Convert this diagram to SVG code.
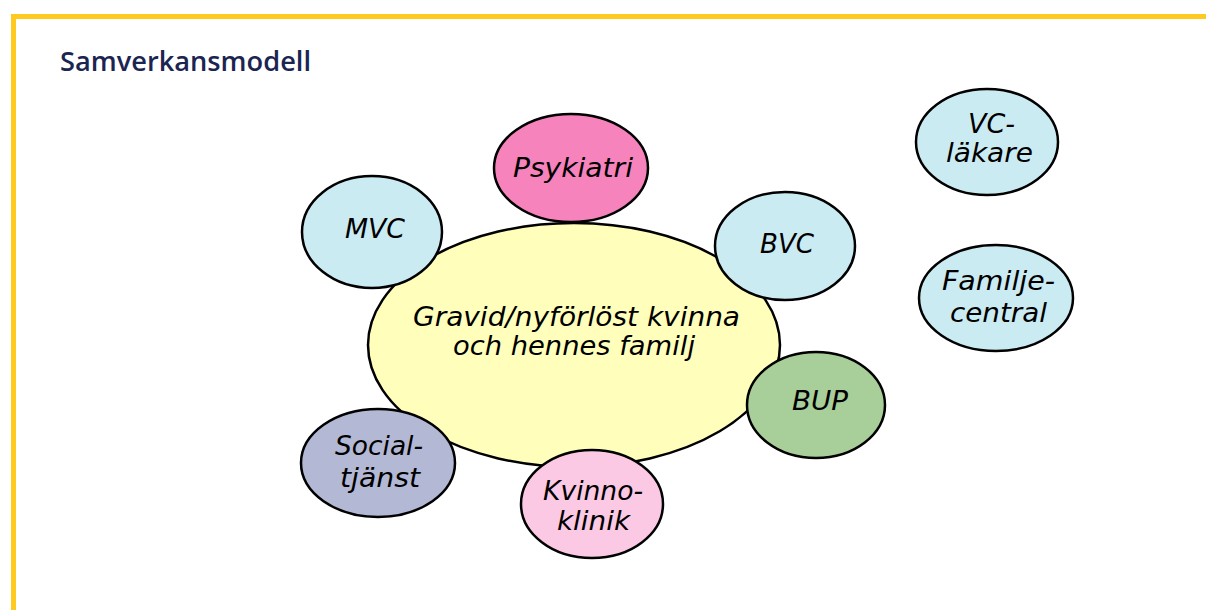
<svg xmlns="http://www.w3.org/2000/svg" width="1206" height="610" viewBox="0 0 1206 610">
<style>
.e{stroke:#000;stroke-width:2.5}
.t{font-family:"DejaVu Sans",Verdana,sans-serif;font-style:italic;font-size:26px;fill:#000;text-anchor:start}
.title{font-family:"Open Sans","DejaVu Sans",sans-serif;font-weight:600;font-size:27px;fill:#1b2552}
</style>
<rect width="1206" height="610" fill="#fff"/>
<path d="M13.5 610 V16.5 H1206" fill="none" stroke="#FFCA1F" stroke-width="5"/>
<text class="title" x="60" y="71" textLength="251" lengthAdjust="spacingAndGlyphs">Samverkansmodell</text>
<g id="connectors"></g>
<g id="center"><ellipse class="e" cx="574" cy="345" rx="206" ry="122" fill="#FFFFBB"/>
<text class="t" x="413" y="326" textLength="327" lengthAdjust="spacingAndGlyphs">Gravid/nyförlöst kvinna</text>
<text class="t" x="453" y="355" textLength="242" lengthAdjust="spacingAndGlyphs">och hennes familj</text></g>
<g id="psykiatri"><ellipse class="e" cx="571" cy="168" rx="77" ry="54" fill="#F783BD"/>
<text class="t" x="513" y="177" textLength="120" lengthAdjust="spacingAndGlyphs">Psykiatri</text></g>
<g id="mvc"><ellipse class="e" cx="372" cy="232" rx="70" ry="56" fill="#CBEBF2"/>
<text class="t" x="345" y="238" textLength="60" lengthAdjust="spacingAndGlyphs">MVC</text></g>
<g id="bvc"><ellipse class="e" cx="785" cy="246" rx="70" ry="54" fill="#CBEBF2"/>
<text class="t" x="760" y="253" textLength="54" lengthAdjust="spacingAndGlyphs">BVC</text></g>
<g id="vclakare"><ellipse class="e" cx="987" cy="142" rx="71" ry="53" fill="#CBEBF2"/>
<text class="t" x="968" y="133" textLength="47" lengthAdjust="spacingAndGlyphs">VC-</text><text class="t" x="946" y="162" textLength="87" lengthAdjust="spacingAndGlyphs">läkare</text></g>
<g id="familjecentral"><ellipse class="e" cx="996" cy="298" rx="77" ry="53" fill="#CBEBF2"/>
<text class="t" x="942" y="290" textLength="113" lengthAdjust="spacingAndGlyphs">Familje-</text><text class="t" x="950" y="322" textLength="97" lengthAdjust="spacingAndGlyphs">central</text></g>
<g id="bup"><ellipse class="e" cx="816" cy="405" rx="69" ry="53" fill="#A8CE9A"/>
<text class="t" x="792" y="410" textLength="56" lengthAdjust="spacingAndGlyphs">BUP</text></g>
<g id="socialtjanst"><ellipse class="e" cx="378" cy="463" rx="77" ry="54" fill="#B3B8D4"/>
<text class="t" x="335" y="455" textLength="88" lengthAdjust="spacingAndGlyphs">Social-</text><text class="t" x="340" y="487" textLength="80" lengthAdjust="spacingAndGlyphs">tjänst</text></g>
<g id="kvinnoklinik"><ellipse class="e" cx="592" cy="504" rx="71" ry="54" fill="#FCC9E4"/>
<text class="t" x="543" y="500" textLength="100" lengthAdjust="spacingAndGlyphs">Kvinno-</text><text class="t" x="557" y="530" textLength="73" lengthAdjust="spacingAndGlyphs">klinik</text></g>
</svg>
